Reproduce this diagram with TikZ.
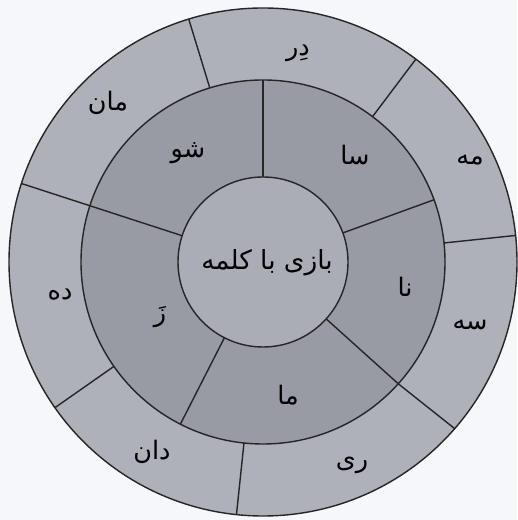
\documentclass[tikz,border=0pt]{standalone}
\usepackage{fontspec}
\usepackage{xcolor}
\usepackage{tikz}
\usetikzlibrary{positioning}
\TeXXeTstate=1
\newfontfamily\arabicfont[Script=Arabic]{DejaVu Sans}
\definecolor{paperbg}{RGB}{246,247,250}
\definecolor{outerring}{RGB}{174,176,186}
\definecolor{midring}{RGB}{152,154,164}
\definecolor{innerdisc}{RGB}{170,172,182}
\tikzset{
  ring/.style={draw=black!85, line width=0.8pt},
  divider/.style={draw=black!85, line width=0.8pt},
  syl/.style={font=\arabicfont\fontsize{14.5}{17}\selectfont, inner sep=1pt},
  title/.style={font=\arabicfont\fontsize{15}{18}\selectfont, inner sep=1pt}
}
\newcommand{\rtl}[1]{\beginR #1\endR}

\begin{document}
\begin{tikzpicture}
  \useasboundingbox (0,0) rectangle (10.34,10.4);
  \fill[paperbg] (0,0) rectangle (10.34,10.4);

  \begin{scope}[shift={(5.26,5.16)}]
    \coordinate (c) at (0,0);

    % rings
    \draw[ring, fill=outerring] (c) circle (5.08);
    \draw[ring, fill=midring] (c) circle (3.64);
    \draw[ring, fill=innerdisc] (c) circle (1.70);

    % dividers of the middle ring
    \draw[divider] (90:1.70) -- (90:3.64);
    \draw[divider] (20:1.70) -- (20:3.64);
    \draw[divider] (-42:1.70) -- (-42:3.64);
    \draw[divider] (-117:1.70) -- (-117:3.64);
    \draw[divider] (162:1.70) -- (162:3.64);

    % dividers of the outer ring
    \draw[divider] (107:3.64) -- (107:5.08);
    \draw[divider] (53:3.64) -- (53:5.08);
    \draw[divider] (6:3.64) -- (6:5.08);
    \draw[divider] (-42:3.64) -- (-41:5.08);
    \draw[divider] (-96:3.64) -- (-96:5.08);
    \draw[divider] (-145:3.64) -- (-145:5.08);
    \draw[divider] (162:3.64) -- (162:5.08);

    % centre
    \node[title] (kalame) at (0.08,-0.02) {\rtl{بازی با کلمه}};

    % middle ring
    \node[syl] (sa) at (1.84,2.14) {\rtl{سا}};
    \node[syl] (sho) at (-1.5,2.18) {\rtl{شو}};
    \node[syl] (na) at (2.84,-0.5) {\rtl{نا}};
    \node[syl] (za) at (-2.06,-1.1) {\rtl{زَ}};
    \node[syl] (ma) at (0.5,-2.66) {\rtl{ما}};

    % outer ring
    \node[syl] (dar) at (0.7,4.18) {\rtl{دِر}};
    \node[syl] (mah) at (4.14,2.04) {\rtl{مه}};
    \node[syl] (seh) at (4.14,-1.26) {\rtl{سه}};
    \node[syl] (ri) at (1.78,-4.06) {\rtl{ری}};
    \node[syl] (dan) at (-2.22,-3.8) {\rtl{دان}};
    \node[syl] (dah) at (-4.06,-0.66) {\rtl{ده}};
    \node[syl] (man) at (-3.1,3.18) {\rtl{مان}};
  \end{scope}
\end{tikzpicture}
\end{document}
